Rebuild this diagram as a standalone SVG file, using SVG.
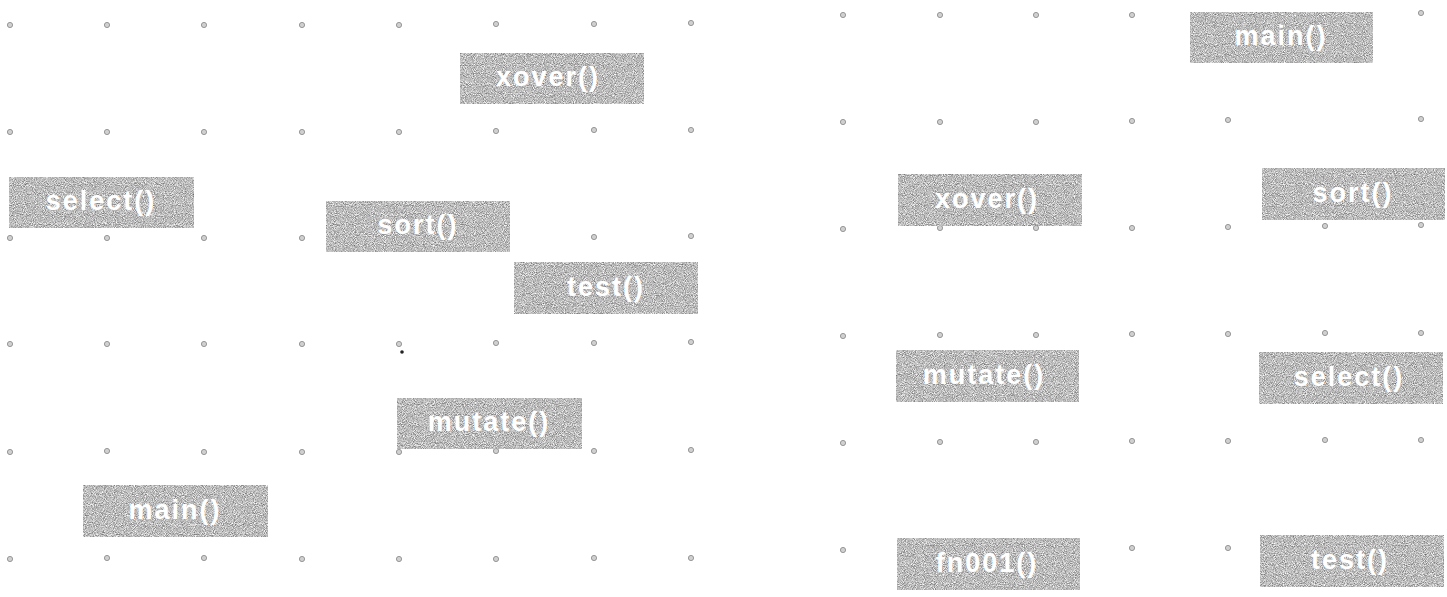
<svg xmlns="http://www.w3.org/2000/svg" width="1447" height="597" viewBox="0 0 1447 597">
<style>
.bg{fill:#ffffff}
.dot{fill:#d0d0d0;stroke:#8e8e8e;stroke-width:0.9}
.box{fill:#b4b4b4}
.lbl{font-family:"Liberation Sans",Arial,sans-serif;font-weight:bold;font-size:27px;letter-spacing:2px;fill:#ffffff;text-anchor:middle}
</style>
<defs>
<filter id="grain" x="0" y="0" width="100%" height="100%" color-interpolation-filters="sRGB">
<feTurbulence type="fractalNoise" baseFrequency="1.1" numOctaves="1" seed="7" result="n"/>
<feColorMatrix in="n" type="matrix" values="0.95 0 0 0 0.26  0.95 0 0 0 0.26  0.95 0 0 0 0.26  0 0 0 0 1" result="g"/>
<feComposite in="g" in2="SourceGraphic" operator="in"/>
</filter>
<circle id="d" r="2.6" class="dot"/>
</defs>
<rect class="bg" x="0" y="0" width="1447" height="597"/>
<g id="grid-left">
<use href="#d" x="10" y="25"/><use href="#d" x="107" y="25"/><use href="#d" x="204" y="25"/><use href="#d" x="302" y="25"/><use href="#d" x="399" y="25"/><use href="#d" x="496" y="24"/><use href="#d" x="594" y="24"/><use href="#d" x="691" y="23"/>
<use href="#d" x="10" y="132"/><use href="#d" x="107" y="132"/><use href="#d" x="204" y="132"/><use href="#d" x="302" y="132"/><use href="#d" x="399" y="132"/><use href="#d" x="496" y="131"/><use href="#d" x="594" y="130"/><use href="#d" x="691" y="130"/>
<use href="#d" x="10" y="238"/><use href="#d" x="107" y="238"/><use href="#d" x="204" y="238"/><use href="#d" x="302" y="238"/><use href="#d" x="399" y="238"/><use href="#d" x="496" y="238"/><use href="#d" x="594" y="237"/><use href="#d" x="691" y="236"/>
<use href="#d" x="10" y="344"/><use href="#d" x="107" y="344"/><use href="#d" x="204" y="344"/><use href="#d" x="302" y="344"/><use href="#d" x="399" y="344"/><use href="#d" x="496" y="343"/><use href="#d" x="594" y="343"/><use href="#d" x="691" y="342"/>
<use href="#d" x="10" y="452"/><use href="#d" x="107" y="451"/><use href="#d" x="204" y="452"/><use href="#d" x="302" y="452"/><use href="#d" x="399" y="452"/><use href="#d" x="496" y="451"/><use href="#d" x="594" y="451"/><use href="#d" x="691" y="450"/>
<use href="#d" x="10" y="559"/><use href="#d" x="107" y="558"/><use href="#d" x="204" y="558"/><use href="#d" x="302" y="559"/><use href="#d" x="399" y="559"/><use href="#d" x="496" y="559"/><use href="#d" x="594" y="558"/><use href="#d" x="691" y="558"/>
<circle cx="402" cy="352" r="1.8" fill="#222"/>
</g>
<g id="grid-right">
<use href="#d" x="843" y="15"/><use href="#d" x="940" y="15"/><use href="#d" x="1036" y="15"/><use href="#d" x="1132" y="15"/><use href="#d" x="1421" y="13"/>
<use href="#d" x="843" y="122"/><use href="#d" x="940" y="122"/><use href="#d" x="1036" y="122"/><use href="#d" x="1132" y="121"/><use href="#d" x="1228" y="120"/><use href="#d" x="1421" y="119"/>
<use href="#d" x="843" y="229"/><use href="#d" x="940" y="228"/><use href="#d" x="1036" y="228"/><use href="#d" x="1132" y="228"/><use href="#d" x="1228" y="227"/><use href="#d" x="1325" y="226"/><use href="#d" x="1421" y="225"/>
<use href="#d" x="843" y="336"/><use href="#d" x="940" y="335"/><use href="#d" x="1036" y="335"/><use href="#d" x="1132" y="334"/><use href="#d" x="1228" y="334"/><use href="#d" x="1325" y="333"/><use href="#d" x="1421" y="333"/>
<use href="#d" x="843" y="443"/><use href="#d" x="940" y="442"/><use href="#d" x="1036" y="442"/><use href="#d" x="1132" y="441"/><use href="#d" x="1228" y="441"/><use href="#d" x="1325" y="440"/><use href="#d" x="1421" y="440"/>
<use href="#d" x="843" y="550"/><use href="#d" x="1132" y="548"/><use href="#d" x="1228" y="548"/>
</g>
<g id="connectors"/>
<g id="L-xover"><rect class="box" filter="url(#grain)" x="460" y="53" width="184" height="51"/><text class="lbl" x="548" y="86">xover()</text></g>
<g id="L-select"><rect class="box" filter="url(#grain)" x="9" y="177" width="185" height="51"/><text class="lbl" x="101" y="210">select()</text></g>
<g id="L-sort"><rect class="box" filter="url(#grain)" x="326" y="201" width="184" height="51"/><text class="lbl" x="418" y="234">sort()</text></g>
<g id="L-test"><rect class="box" filter="url(#grain)" x="514" y="262" width="184" height="52"/><text class="lbl" x="606" y="296">test()</text></g>
<g id="L-mutate"><rect class="box" filter="url(#grain)" x="397" y="398" width="185" height="51"/><text class="lbl" x="489" y="431">mutate()</text></g>
<g id="L-main"><rect class="box" filter="url(#grain)" x="83" y="485" width="185" height="52"/><text class="lbl" x="175" y="519">main()</text></g>
<g id="R-main"><rect class="box" filter="url(#grain)" x="1190" y="12" width="183" height="51"/><text class="lbl" x="1281" y="45">main()</text></g>
<g id="R-xover"><rect class="box" filter="url(#grain)" x="898" y="174" width="184" height="52"/><text class="lbl" x="987" y="208">xover()</text></g>
<g id="R-sort"><rect class="box" filter="url(#grain)" x="1262" y="168" width="183" height="52"/><text class="lbl" x="1353" y="202">sort()</text></g>
<g id="R-mutate"><rect class="box" filter="url(#grain)" x="896" y="350" width="183" height="52"/><text class="lbl" x="984" y="384">mutate()</text></g>
<g id="R-select"><rect class="box" filter="url(#grain)" x="1259" y="352" width="184" height="52"/><text class="lbl" x="1349" y="386">select()</text></g>
<g id="R-fn001"><rect class="box" filter="url(#grain)" x="897" y="538" width="183" height="52"/><text class="lbl" x="987" y="572">fn001()</text></g>
<g id="R-test"><rect class="box" filter="url(#grain)" x="1260" y="535" width="184" height="52"/><text class="lbl" x="1350" y="569">test()</text></g>
</svg>
